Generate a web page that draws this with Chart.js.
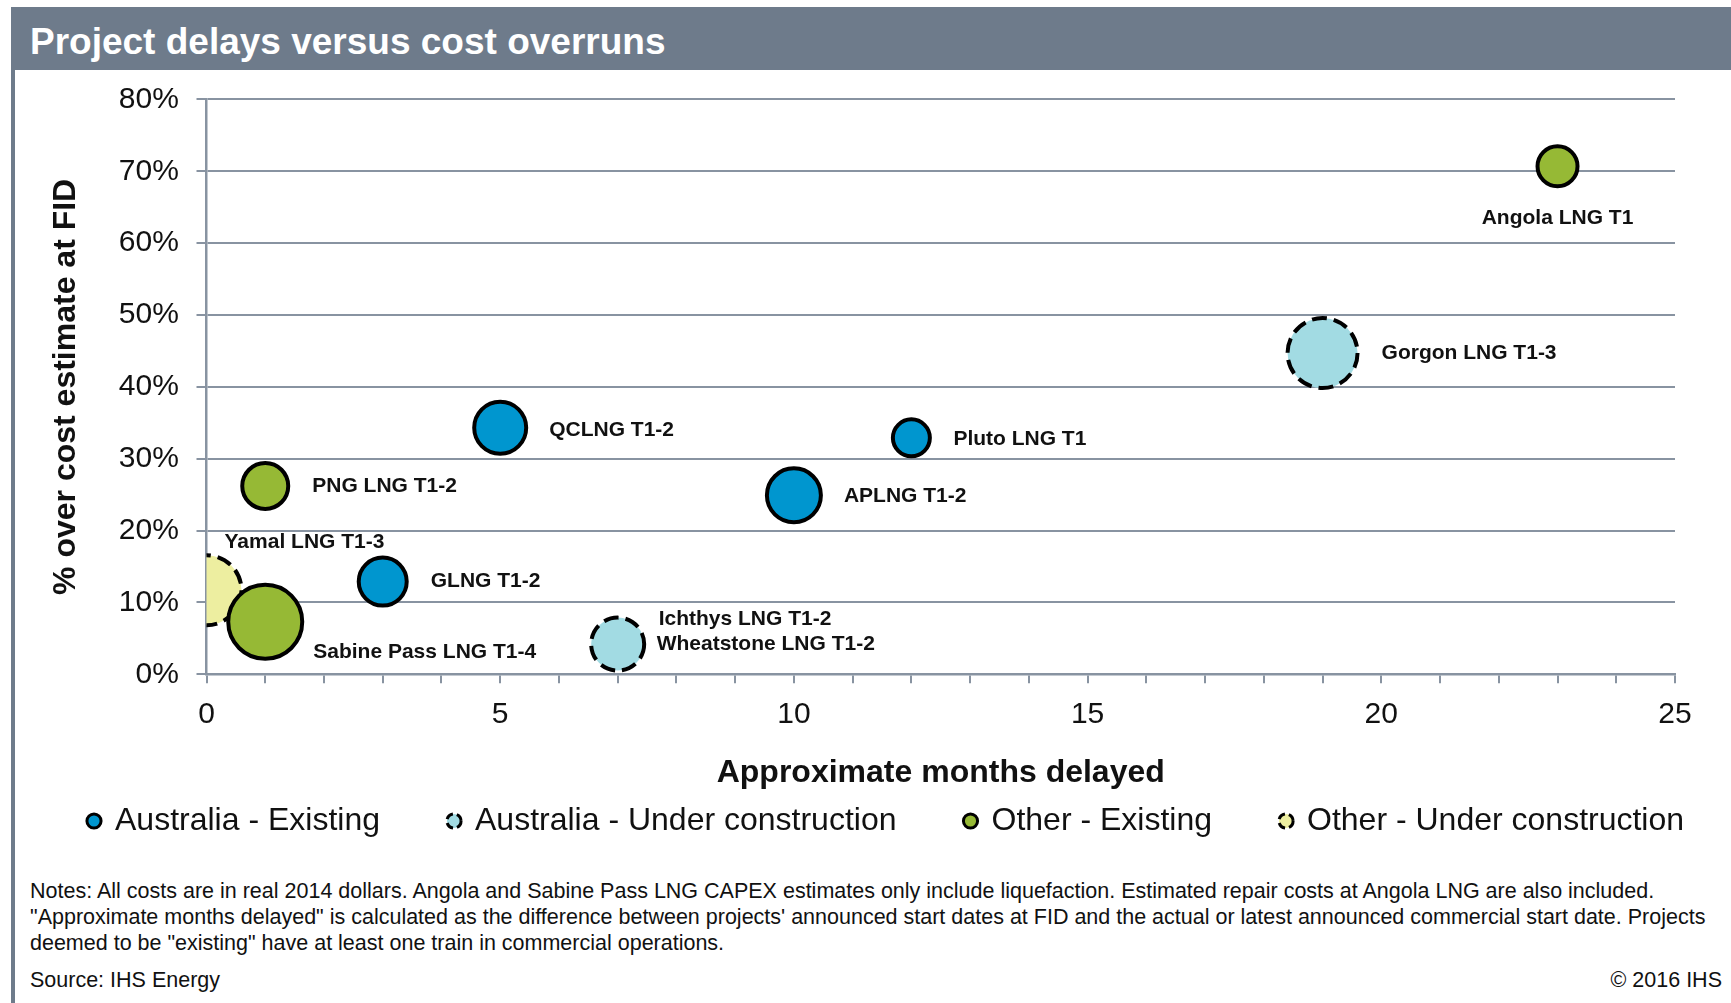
<!DOCTYPE html>
<html><head><meta charset="utf-8">
<script src="https://cdn.jsdelivr.net/npm/chart.js@4"></script>
<style>
html,body{margin:0;padding:0;width:1731px;height:1003px;overflow:hidden;background:#fff;font-family:"Liberation Sans",Arial,sans-serif;}
#frame{position:absolute;left:11px;top:7px;width:4px;height:996px;background:#6E7B8B;}
#titlebar{position:absolute;left:11px;top:7px;width:1720px;height:63px;background:#6E7B8B;}
#title{position:absolute;left:30px;top:7px;height:63px;line-height:70px;color:#fff;font-weight:bold;font-size:37px;white-space:nowrap;}
#chart{position:absolute;left:0;top:72px;}
.note{position:absolute;left:30px;font-size:21.5px;line-height:26px;color:#111;white-space:nowrap;}
</style></head>
<body>
<div id="frame"></div>
<div id="titlebar"></div>
<div id="title">Project delays versus cost overruns</div>
<canvas id="chart" width="1775" height="775"></canvas>
<div class="note" style="top:878px">Notes: All costs are in real 2014 dollars. Angola and Sabine Pass LNG CAPEX estimates only include liquefaction. Estimated repair costs at Angola LNG are also included.<br>"Approximate months delayed" is calculated as the difference between projects' announced start dates at FID and the actual or latest announced commercial start date. Projects<br>deemed to be "existing" have at least one train in commercial operations.</div>
<div class="note" style="top:967px">Source: IHS Energy</div>
<div class="note" style="top:967px;left:auto;right:9px">© 2016 IHS</div>
<script>
// ---- data ----
const seriesNames = ["Australia - Existing", "Australia - Under construction", "Other - Existing", "Other - Under construction"];

const ausExistingNames = ["QCLNG T1-2", "Pluto LNG T1", "APLNG T1-2", "GLNG T1-2"];
const ausExistingMonths = [5, 12, 10, 3];
const ausExistingOverrun = [34.3, 32.9, 24.9, 12.9];
const ausExistingSize = [26, 18.5, 27, 24];

const ausConstructionNames = ["Gorgon LNG T1-3", "Ichthys LNG T1-2\nWheatstone LNG T1-2"];
const ausConstructionMonths = [19, 7];
const ausConstructionOverrun = [44.7, 4.2];
const ausConstructionSize = [35, 26.5];

const otherExistingNames = ["Angola LNG T1", "PNG LNG T1-2", "Sabine Pass LNG T1-4"];
const otherExistingMonths = [23, 1, 1];
const otherExistingOverrun = [70.7, 26.2, 7.3];
const otherExistingSize = [20, 23, 37];

const otherConstructionNames = ["Yamal LNG T1-3"];
const otherConstructionMonths = [0];
const otherConstructionOverrun = [11.7];
const otherConstructionSize = [35];

const xMin = 0, xMax = 25, xStep = 1, xLabelEvery = 5;
const yMin = 0, yMax = 80, yStep = 10;

// ---- styles ----
const FONT = '"Liberation Sans", Arial, Helvetica, sans-serif';
const GRID = '#8893A1';
const TEXT = '#111111';
const seriesColors = ['#0096CF', '#A2DBE3', '#96B935', '#EDEEA0'];
const seriesDashed = [false, true, false, true];
// label offsets relative to bubble centre: per line [dx, dy, align]
const labelPlacement = {
  "Angola LNG T1": [[0, 52, 'center']],
  "Gorgon LNG T1-3": [[59, 0, 'left']],
  "QCLNG T1-2": [[49, 2, 'left']],
  "Pluto LNG T1": [[42, 1, 'left']],
  "APLNG T1-2": [[50, 1, 'left']],
  "PNG LNG T1-2": [[47, 0, 'left']],
  "GLNG T1-2": [[48, 0, 'left']],
  "Sabine Pass LNG T1-4": [[48, 30, 'left']],
  "Yamal LNG T1-3": [[18, -48, 'left']],
  "Ichthys LNG T1-2\nWheatstone LNG T1-2": [[41, -25, 'left'], [39, 0, 'left']]
};

function makePoints(xs, ys, rs) {
  return xs.map((x, i) => ({x: x, y: ys[i], r: rs[i]}));
}
const seriesData = [
  [ausExistingNames, makePoints(ausExistingMonths, ausExistingOverrun, ausExistingSize)],
  [ausConstructionNames, makePoints(ausConstructionMonths, ausConstructionOverrun, ausConstructionSize)],
  [otherExistingNames, makePoints(otherExistingMonths, otherExistingOverrun, otherExistingSize)],
  [otherConstructionNames, makePoints(otherConstructionMonths, otherConstructionOverrun, otherConstructionSize)]
];
const datasets = seriesData.map((s, i) => ({
  label: seriesNames[i],
  names: s[0],
  data: s[1],
  backgroundColor: seriesColors[i],
  borderColor: '#000000',
  borderWidth: 4,
  dashed: seriesDashed[i]
}));

const dashPlugin = {
  id: 'dashedBorders',
  beforeDatasetDraw(chart, args) {
    const ds = chart.data.datasets[args.index];
    chart.ctx.setLineDash(ds.dashed ? [15, 7] : []);
  },
  afterDatasetDraw(chart) { chart.ctx.setLineDash([]); }
};

const labelPlugin = {
  id: 'bubbleLabels',
  afterDatasetsDraw(chart) {
    const ctx = chart.ctx;
    ctx.save();
    ctx.font = 'bold 21px ' + FONT;
    ctx.fillStyle = TEXT;
    ctx.textBaseline = 'middle';
    chart.data.datasets.forEach((ds, di) => {
      const meta = chart.getDatasetMeta(di);
      meta.data.forEach((el, i) => {
        const name = ds.names[i];
        const lines = name.split('\n');
        const place = labelPlacement[name];
        lines.forEach((line, k) => {
          const p = place[k];
          ctx.textAlign = p[2];
          ctx.fillText(line, el.x + p[0], el.y + p[1]);
        });
      });
    });
    ctx.restore();
  }
};

new Chart(document.getElementById('chart'), {
  type: 'bubble',
  data: { datasets: datasets },
  options: {
    responsive: false,
    animation: false,
    events: [],
    layout: { autoPadding: false, padding: { left: 20, top: 27.4, right: 0, bottom: 0 } },
    plugins: {
      tooltip: { enabled: false },
      legend: {
        position: 'bottom',
        align: 'start',
        labels: {
          usePointStyle: true,
          pointStyle: 'circle',
          boxWidth: 10,
          boxHeight: 10,
          padding: 69,
          color: TEXT,
          font: { family: FONT, size: 32 },
          generateLabels(chart) {
            const base = Chart.defaults.plugins.legend.labels.generateLabels(chart);
            return base.map((l) => Object.assign(l, {
              lineWidth: 3,
              strokeStyle: '#000',
              lineDash: seriesDashed[l.datasetIndex] ? [8, 4] : []
            }));
          }
        }
      }
    },
    scales: {
      x: {
        type: 'linear', min: xMin, max: xMax, position: 'bottom',
        afterFit(s) { s.height = 61.7; s.paddingRight = 100; },
        ticks: {
          stepSize: xStep, autoSkip: false, maxRotation: 0, minRotation: 0,
          padding: 13, color: TEXT, font: { family: FONT, size: 30 },
          callback: (v) => (v % xLabelEvery === 0 ? String(v) : '')
        },
        grid: { drawOnChartArea: false, drawTicks: true, tickLength: 9, color: GRID, lineWidth: 2 },
        border: { color: GRID, width: 2.5 },
        title: {
          display: true, text: 'Approximate months delayed', color: TEXT,
          font: { family: FONT, size: 32, weight: 'bold' },
          padding: { top: 0, bottom: -56 }
        }
      },
      y: {
        type: 'linear', min: yMin, max: yMax,
        afterFit(s) { s.width = 186.5; s.paddingTop = 0; s.paddingBottom = 0; },
        ticks: {
          stepSize: yStep, padding: 17.7, color: TEXT, font: { family: FONT, size: 30 },
          callback: (v) => v + '%'
        },
        grid: { color: GRID, lineWidth: 2, tickLength: 10 },
        border: { color: GRID, width: 2.5 },
        title: {
          display: true, text: '% over cost estimate at FID', color: TEXT,
          font: { family: FONT, size: 32, weight: 'bold' },
          padding: { top: 26.8, bottom: 0 }
        }
      }
    }
  },
  plugins: [dashPlugin, labelPlugin]
});
</script>
</body></html>
